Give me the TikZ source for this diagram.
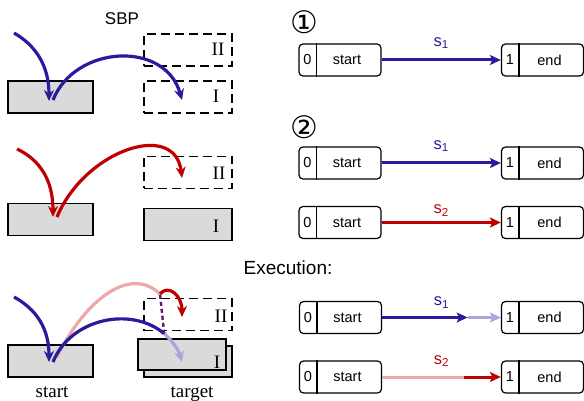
\documentclass[tikz,border=0pt]{standalone}
\usepackage{fontspec}
\setmainfont{Liberation Sans}
\newfontfamily\seriffont{Liberation Serif}
\newfontfamily\symfont{DejaVu Sans}
\usetikzlibrary{arrows.meta,calc}
\definecolor{cblue}{HTML}{2A1A9E}
\definecolor{cred}{HTML}{C00000}
\definecolor{cpink}{HTML}{EEA8A8}
\definecolor{clblue}{HTML}{ABA5DC}
\definecolor{cpurple}{HTML}{5E1670}
\definecolor{cgrey}{HTML}{DADADA}
\tikzset{
  greybox/.style={draw, fill=cgrey, line width=1.3pt, minimum width=85pt, minimum height=32pt, inner sep=0pt},
  dashbox/.style={draw, dash pattern=on 9pt off 5pt, line width=1.3pt, minimum width=88pt, minimum height=32pt, inner sep=0pt},
  roman/.style={font=\seriffont\fontsize{19}{19}\selectfont, anchor=base, inner sep=0pt},
  arc/.style={line width=3.2pt, -{Stealth[length=11pt,width=10pt]}},
  plainarc/.style={line width=3.2pt},
  state/.style={draw, rounded corners=4pt, line width=1.2pt, minimum width=82pt, minimum height=32pt, inner sep=0pt},
  lbl/.style={font=\fontsize{14.5}{14.5}\selectfont, inner sep=0pt},
  slabel/.style={font=\fontsize{16.5}{16.5}\selectfont, inner sep=0pt},
  rarrow/.style={line width=3pt, -{Stealth[length=11pt,width=10pt,inset=2.5pt]}},
  rline/.style={line width=3pt},
  circnum/.style={font=\symfont\fontsize{31}{31}\selectfont, inner sep=0pt}
}
\newcommand\stnode[4]{%
  \node[state] (#1) at (#2) {};
  \draw[line width=1.2pt] ([xshift=18pt]#1.north west) -- ([xshift=18pt]#1.south west);
  \node[lbl] (#1n) at ($(#1.west)+(9pt,0)$) {#3};
  \node[lbl] (#1t) at ($(#1.center)+(7pt,0)$) {#4};
}
\begin{document}
\begin{tikzpicture}[x=1pt,y=-1pt]
\useasboundingbox (0,0) rectangle (584,401);

% ---------- left: panel 1 ----------
\node[font=\fontsize{17}{17}\selectfont] (sbp) at (122,19) {SBP};
\node[greybox] (g1) at (50.5,97) {};
\node[dashbox] (d1a) at (188,50) {};
\node[dashbox] (d1b) at (188,97) {};
\node[roman] (t1a) at (218,56) {II};
\node[roman] (t1b) at (216,103) {I};
\coordinate (p1a) at (14,33);
\coordinate (p1b) at (49,101);
\coordinate (p1c) at (53,100);
\coordinate (p1d) at (182,100);
\draw[arc, cblue] (p1a) .. controls (35,45) and (49,65) .. (p1b);
\draw[arc, cblue] (p1c) .. controls (75,45) and (165,40) .. (p1d);

% ---------- left: panel 2 ----------
\node[greybox] (g2) at (50.5,219.5) {};
\node[dashbox] (d2a) at (188,172.5) {};
\node[greybox, minimum width=88pt] (g2b) at (188,224.5) {};
\node[roman] (t2a) at (219,179) {II};
\node[roman] (t2b) at (216,232) {I};
\coordinate (p2a) at (17,149);
\coordinate (p2b) at (53,217);
\coordinate (p2c) at (57,217);
\coordinate (p2d) at (182,178);
\draw[arc, cred] (p2a) .. controls (40,160) and (53,180) .. (p2b);
\draw[arc, cred] (p2c) .. controls (85,150) and (175,120) .. (p2d);

% ---------- left: panel 3 ----------
\node[greybox] (g3) at (50.5,361) {};
\node[dashbox] (d3a) at (188,314.5) {};
\node[greybox, minimum width=88pt, minimum height=31pt] (g3c) at (188,361.5) {};
\node[greybox, minimum width=88pt, minimum height=31pt] (g3b) at (182,354.5) {};
\node[roman] (t3a) at (221,322) {II};
\node[roman] (t3b) at (217,368) {I};
\node[roman] (lstart) at (52,397) {start};
\node[roman] (ltarget) at (192,397) {target};
\coordinate (p3a) at (14,297);
\coordinate (p3b) at (49,362);
\coordinate (p3c) at (57,357);
\coordinate (p3e) at (160,294);
\coordinate (p3f) at (182,317);
\coordinate (p3s) at (53,362);
\coordinate (p3g) at (164.2,333.7);
\coordinate (p3h) at (182,362);
\draw[arc, cblue] (p3a) .. controls (36,309) and (49,328) .. (p3b);
\draw[plainarc, cpink] (p3c) .. controls (85,300) and (130,265) .. (p3e);
\draw[plainarc, cblue] (p3s) .. controls (70.6,318) and (131.7,306) .. (p3g);
\draw[arc, clblue] (p3g) .. controls (172.3,340.6) and (178.6,350) .. (p3h);
\draw[cpurple, line width=2.4pt, dash pattern=on 4pt off 3pt] (p3g) -- (p3e);
\draw[arc, cred] (p3e) .. controls (168,284) and (182,295) .. (p3f);

% ---------- right: panel 1 ----------
\node[circnum] (c1) at (304,22) {①};
\stnode{a1}{340,60}{0}{start}
\stnode{b1}{542.5,60}{1}{end}
\draw[rarrow, cblue] (a1.east) -- (b1.west) node[midway, yshift=17pt, slabel, text=cblue] (s11) {s\textsubscript{1}};

% ---------- right: panel 2 ----------
\node[circnum] (c2) at (304,127) {②};
\stnode{a2}{340,163}{0}{start}
\stnode{b2}{542.5,163}{1}{end}
\draw[rarrow, cblue] (a2.east) -- (b2.west) node[midway, yshift=17pt, slabel, text=cblue] (s21) {s\textsubscript{1}};
\stnode{a3}{340,222.5}{0}{start}
\stnode{b3}{542.5,222.5}{1}{end}
\draw[rarrow, cred] (a3.east) -- (b3.west) node[midway, yshift=12pt, slabel, text=cred] (s22) {s\textsubscript{2}};

% ---------- right: panel 3 ----------
\node[font=\fontsize{19}{19}\selectfont] (exe) at (288,268) {Execution:};
\stnode{a4}{340.5,317.5}{0}{start}
\stnode{b4}{542.5,317.5}{1}{end}
\coordinate (m4) at ($(a4.east)!0.72!(b4.west)$);
\draw[rarrow, cblue] (a4.east) -- (m4);
\draw[rarrow, clblue] (m4) -- (b4.west);
\path (a4.east) -- (b4.west) node[midway, yshift=15pt, slabel, text=cblue] (s31) {s\textsubscript{1}};
\stnode{a5}{340.5,377}{0}{start}
\stnode{b5}{542.5,377}{1}{end}
\coordinate (m5) at ($(a5.east)!0.69!(b5.west)$);
\draw[rline, cpink] (a5.east) -- (m5);
\draw[rarrow, cred] (m5) -- (b5.west);
\path (a5.east) -- (b5.west) node[midway, yshift=16pt, slabel, text=cred] (s32) {s\textsubscript{2}};
\end{tikzpicture}
\end{document}
